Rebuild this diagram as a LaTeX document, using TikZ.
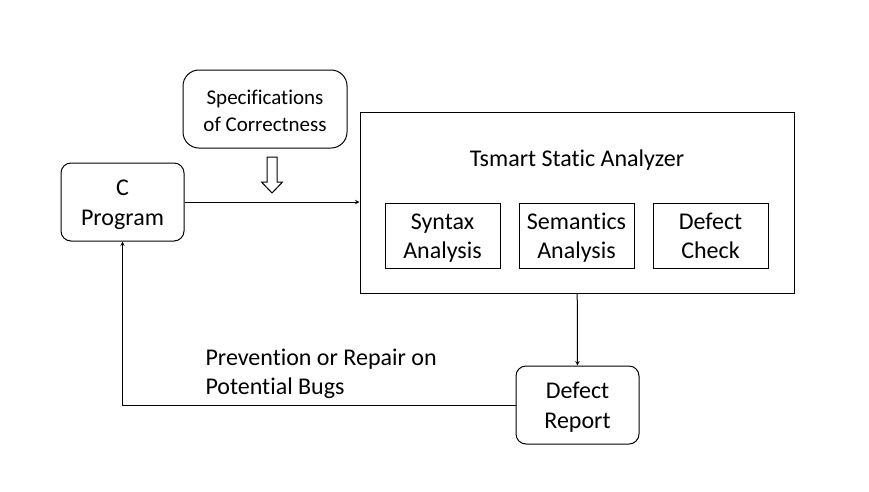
\documentclass[tikz,border=0pt]{standalone}
\usepackage{fontspec}
\setmainfont{Carlito}[Ligatures=NoCommon]
\usetikzlibrary{positioning, arrows}
\tikzset{
    round_node/.style={rectangle, rounded corners=10pt, minimum width=123pt, minimum height=78pt, text height=46pt, text depth=0pt, text centered, align=center, draw=black, line width=1pt, font=\fontsize{24}{30}\selectfont},
    spec_node/.style={round_node, rounded corners=16pt, minimum width=164pt, text height=44.6pt, font=\fontsize{21}{26.5}\selectfont},
    rec/.style={rectangle, minimum width=115pt, minimum height=65pt, text height=46.8pt, text depth=0pt, text centered, align=center, draw=black, line width=1pt, font=\fontsize{24}{29}\selectfont},
    frame/.style={rectangle, minimum width=434pt, minimum height=181pt, draw=black, line width=1pt},
    center_text/.style={font=\fontsize{24}{29}\selectfont},
    arrow/.style={line width=1pt, ->, >=stealth},
    line/.style={line width=1pt},
}

\begin{document}
\begin{tikzpicture}[x=1pt, y=-1pt]
    \useasboundingbox (0,0) rectangle (869,491);
    %%%%%%%%%%%%%
    % INPUTS    %
    %%%%%%%%%%%%%
    \node (c_program) [round_node] at (122.5,202)
            {C \\ Program};
    \node (specs) [spec_node] at (265,109)
            {Specifications \\ of Correctness};
    % hollow arrow under the specifications
    \draw [line] (267,157) -- (277,157) -- (277,182) -- (282.5,182)
            -- (272,193) -- (261.5,182) -- (267,182) -- cycle;

    %%%%%%%%%%%%%
    % ANALYZER  %
    %%%%%%%%%%%%%
    \node (analyzer) [frame] at (577,202.5) {};
    \node (analyzer_title) [center_text] at (577,160)
            {Tsmart Static Analyzer};
    \node (syntax) [rec] at (442.5,235.5)
            {Syntax \\ Analysis};
    \node (semantics) [rec, right = 18pt of syntax]
            {Semantics \\ Analysis};
    \node (defect_check) [rec, right = 18pt of semantics]
            {Defect \\ Check};

    %%%%%%%%%%%%%
    % OUTPUT    %
    %%%%%%%%%%%%%
    \node (defect_report) [round_node] at (577.5,405)
            {Defect \\ Report};
    \node (feedback_label) [center_text, align=left, anchor=west] at (202,374)
            {Prevention or Repair on \\ Potential Bugs};

    \draw [arrow] (c_program) -- (analyzer.west |- c_program);
    \draw [arrow] (analyzer) -- (defect_report);
    \draw [arrow] (defect_report.west) -| (c_program.south);
\end{tikzpicture}
\end{document}
